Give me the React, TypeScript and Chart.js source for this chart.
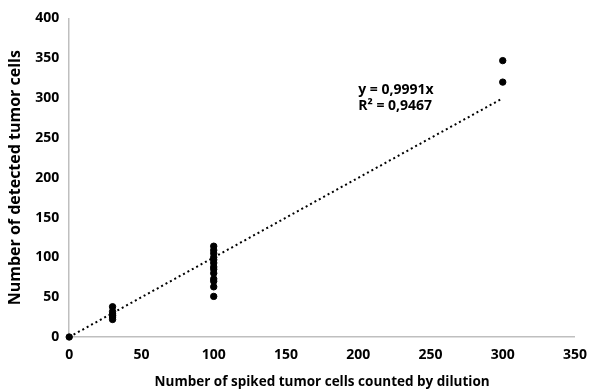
import React, { useEffect, useRef } from "react";
import { Chart, registerables } from "chart.js";

Chart.register(...registerables);

const x0 = [0];
const y0 = [0];
const x30 = [30, 30, 30, 30, 30, 30];
const y30 = [38, 32, 29, 27, 25, 22];
const x100 = [100, 100, 100, 100, 100, 100, 100, 100, 100, 100, 100, 100, 100];
const y100 = [114, 109, 105, 100, 97, 93, 88, 85, 80, 73, 70, 63, 51];
const x300 = [300, 300];
const y300 = [347, 320];
const slope = 0.9991;
const r2Text = "R² = 0,9467";
const eqText = "y = 0,9991x";
const trendX = [0, 300];
const xTicks = [0, 50, 100, 150, 200, 250, 300, 350];

const FONT = "'Open Sans', 'Liberation Sans', sans-serif";

export default function App() {
  const ref = useRef<HTMLCanvasElement>(null);
  useEffect(() => {
    document.body.style.margin = "0";
    const pts = [
      ...x0.map((x, i) => ({ x, y: y0[i] })),
      ...x30.map((x, i) => ({ x, y: y30[i] })),
      ...x100.map((x, i) => ({ x, y: y100[i] })),
      ...x300.map((x, i) => ({ x, y: y300[i] })),
    ];
    const trend = trendX.map((x) => ({ x, y: slope * x }));
    const labelPlugin = {
      id: "eqLabel",
      afterDatasetsDraw(chart: any) {
        const { ctx, scales } = chart;
        const px = scales.x.getPixelForValue(200);
        const py = scales.y.getPixelForValue(310);
        ctx.save();
        ctx.font = `bold 14px ${FONT}`;
        ctx.fillStyle = "#000";
        ctx.textAlign = "left";
        ctx.textBaseline = "middle";
        ctx.fillText(eqText, px, py);
        ctx.fillText(r2Text, px, py + 16);
        ctx.restore();
      },
    };
    const chart = new Chart(ref.current!, {
      type: "scatter",
      data: {
        datasets: [
          {
            type: "line",
            data: trend,
            borderColor: "#000",
            borderWidth: 2,
            borderDash: [2, 3],
            pointRadius: 0,
            fill: false,
          } as any,
          {
            data: pts,
            backgroundColor: "#000",
            borderColor: "#000",
            pointRadius: 3.2,
            pointHoverRadius: 3.2,
            clip: false,
          } as any,
        ],
      },
      options: {
        animation: false,
        responsive: false,
        maintainAspectRatio: false,
        layout: { padding: { top: 10, right: 10, left: 6, bottom: 2 } },
        plugins: { legend: { display: false }, tooltip: { enabled: false } },
        scales: {
          x: {
            type: "linear",
            min: 0,
            max: 350,
            afterBuildTicks: (axis: any) => {
              axis.ticks = xTicks.map((v) => ({ value: v }));
            },
            grid: { display: false, drawTicks: false },
            border: { display: true, color: "#bfbfbf", width: 1.5 },
            ticks: {
              padding: 10,
              color: "#000",
              font: { family: FONT, size: 14, weight: "bold" },
            },
            title: {
              display: true,
              text: "Number of spiked tumor cells counted by dilution",
              color: "#000",
              font: { family: FONT, size: 13.5, weight: "bold" },
              padding: { top: 0, bottom: 0 },
            },
          },
          y: {
            type: "linear",
            min: 0,
            max: 400,
            ticks: {
              stepSize: 50,
              padding: 10,
              color: "#000",
              font: { family: FONT, size: 14, weight: "bold" },
            },
            grid: { display: false, drawTicks: false },
            border: { display: true, color: "#bfbfbf", width: 1.5 },
            title: {
              display: true,
              text: "Number of detected tumor cells",
              color: "#000",
              font: { family: FONT, size: 16, weight: "bold" },
              padding: { top: 0, bottom: 0 },
            },
          },
        },
      },
      plugins: [labelPlugin],
    });
    return () => chart.destroy();
  }, []);
  return (
    <div style={{ width: 597, height: 392 }}>
      <canvas ref={ref} width={597} height={392} style={{ display: "block" }} />
    </div>
  );
}
